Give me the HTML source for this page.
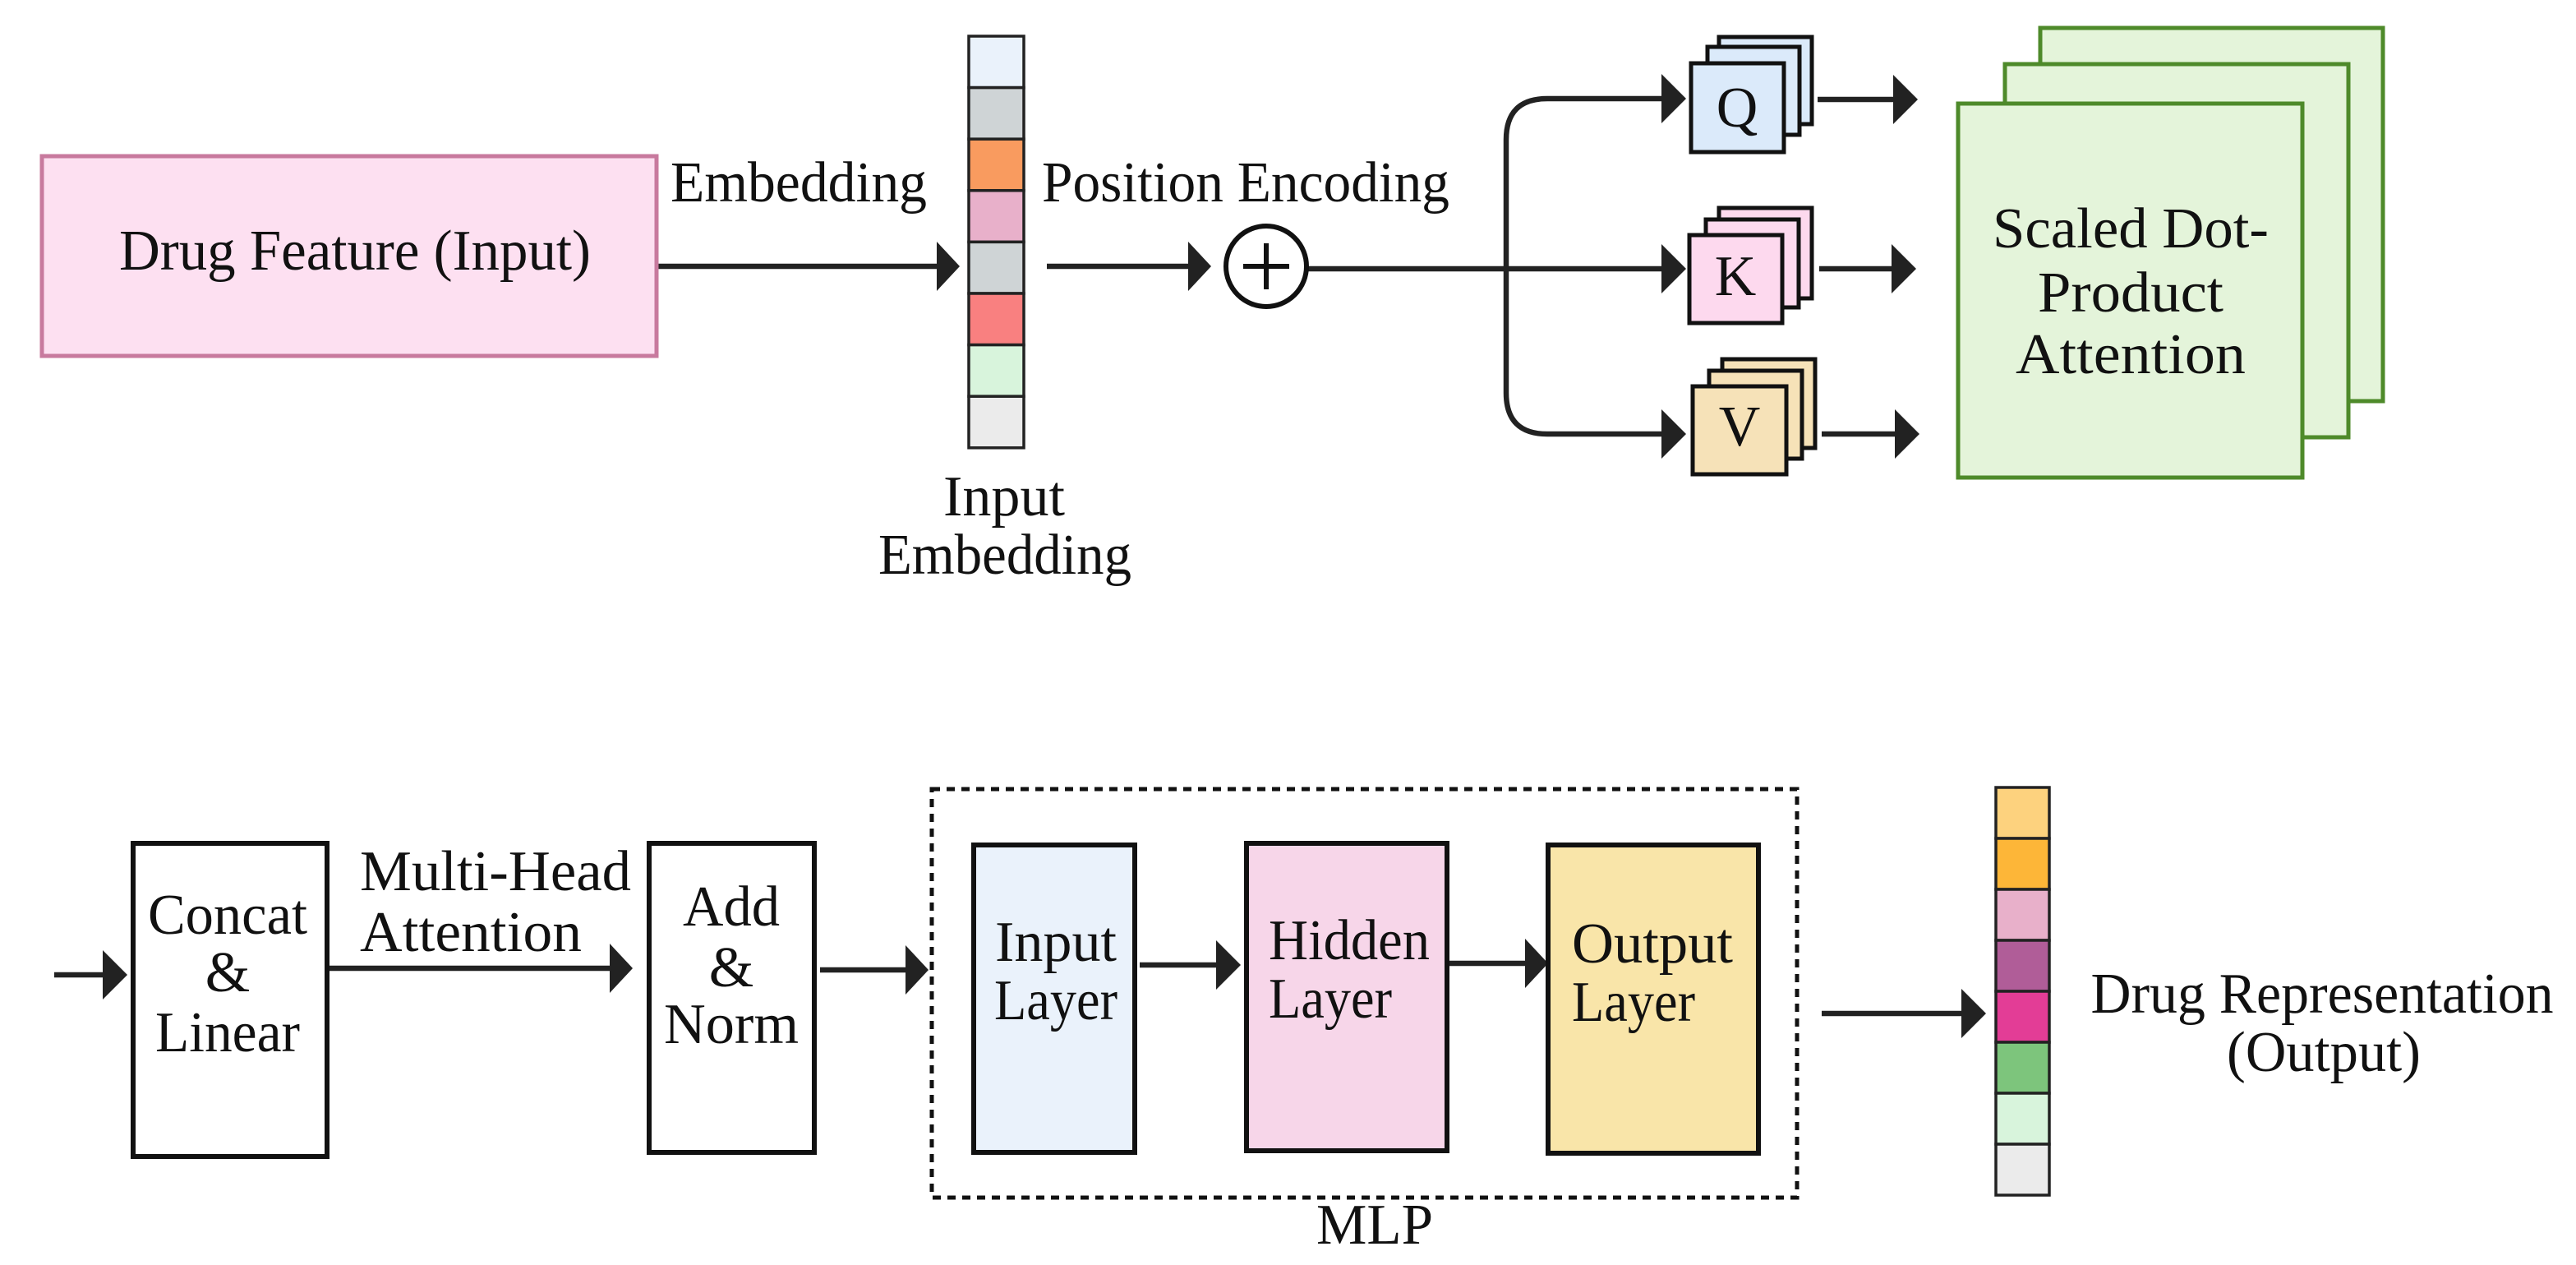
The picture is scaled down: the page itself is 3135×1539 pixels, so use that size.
<!DOCTYPE html>
<html><head><meta charset="utf-8"><style>
html,body{margin:0;padding:0;background:#fff;}
svg{display:block;}
text{font-family:"Liberation Serif","Times New Roman",serif;fill:#111;font-size:70px;}
</style></head><body>
<svg width="3135" height="1539" viewBox="0 0 3135 1539" xmlns="http://www.w3.org/2000/svg">
<g stroke="#222" stroke-width="6.5" fill="none">
<line x1="800" y1="324" x2="1145" y2="324"/>
<line x1="1274" y1="324" x2="1450" y2="324"/>
<line x1="1590" y1="327" x2="2025" y2="327"/>
<path d="M2025 120 H1883 Q1833 120 1833 170 V478 Q1833 528 1883 528 H2025"/>
<line x1="2212" y1="121" x2="2308" y2="121"/>
<line x1="2214" y1="327" x2="2306" y2="327"/>
<line x1="2217" y1="528" x2="2310" y2="528"/>
<line x1="66" y1="1186" x2="130" y2="1186"/>
<line x1="401" y1="1178" x2="745" y2="1178"/>
<line x1="998" y1="1180" x2="1105" y2="1180"/>
<line x1="1387" y1="1174" x2="1485" y2="1174"/>
<line x1="1761" y1="1172" x2="1860" y2="1172"/>
<line x1="2217" y1="1233" x2="2390" y2="1233"/>
</g>
<g fill="#222">
<polygon points="1140,294 1168,324 1140,354"/>
<polygon points="1446,294 1474,324 1446,354"/>
<polygon points="2022,90 2052,120 2022,150"/>
<polygon points="2022,297 2052,327 2022,357"/>
<polygon points="2022,498 2052,528 2022,558"/>
<polygon points="2304,91 2334,121 2304,151"/>
<polygon points="2302,297 2332,327 2302,357"/>
<polygon points="2306,498 2336,528 2306,558"/>
<polygon points="125,1156 155,1186 125,1216"/>
<polygon points="742,1148 770,1178 742,1208"/>
<polygon points="1102,1150 1130,1180 1102,1210"/>
<polygon points="1480,1144 1510,1174 1480,1204"/>
<polygon points="1856,1142 1884,1172 1856,1202"/>
<polygon points="2387,1203 2417,1233 2387,1263"/>
</g>
<rect x="51" y="190" width="748" height="243" fill="#fde0f1" stroke="#c87a9e" stroke-width="5"/>
<text x="432" y="328" text-anchor="middle" textLength="574" lengthAdjust="spacingAndGlyphs">Drug Feature (Input)</text>
<text x="816" y="245" textLength="312" lengthAdjust="spacingAndGlyphs">Embedding</text>
<text x="1268" y="245" textLength="496" lengthAdjust="spacingAndGlyphs">Position Encoding</text>
<g stroke="#222" stroke-width="3.5">
<rect x="1179" y="44" width="67" height="62.6" fill="#eaf2fb"/>
<rect x="1179" y="106.6" width="67" height="62.6" fill="#cfd4d6"/>
<rect x="1179" y="169.2" width="67" height="62.6" fill="#f99b5f"/>
<rect x="1179" y="231.8" width="67" height="62.6" fill="#e8b0ca"/>
<rect x="1179" y="294.4" width="67" height="62.6" fill="#cfd4d6"/>
<rect x="1179" y="357" width="67" height="62.6" fill="#f98080"/>
<rect x="1179" y="419.6" width="67" height="62.6" fill="#d8f4dc"/>
<rect x="1179" y="482.2" width="67" height="62.6" fill="#ebebeb"/>
</g>
<text x="1222" y="627" text-anchor="middle" textLength="148" lengthAdjust="spacingAndGlyphs">Input</text>
<text x="1223" y="698" text-anchor="middle" textLength="308" lengthAdjust="spacingAndGlyphs">Embedding</text>
<circle cx="1541" cy="324" r="49" fill="#fff" stroke="#111" stroke-width="6"/>
<line x1="1541" y1="296" x2="1541" y2="352" stroke="#111" stroke-width="6"/>
<line x1="1513" y1="324" x2="1569" y2="324" stroke="#111" stroke-width="6"/>
<g stroke="#111" stroke-width="5">
<rect x="2092" y="45" width="113" height="106" fill="#dbeafa"/>
<rect x="2078" y="57" width="112" height="107" fill="#dbeafa"/>
<rect x="2058" y="77" width="113" height="108" fill="#dbeafa"/>
<rect x="2092" y="253" width="113" height="110" fill="#fdd9ee"/>
<rect x="2076" y="267" width="113" height="107" fill="#fdd9ee"/>
<rect x="2056" y="286" width="113" height="107" fill="#fdd9ee"/>
<rect x="2096" y="437" width="113" height="108" fill="#f6e2b8"/>
<rect x="2080" y="451" width="113" height="107" fill="#f6e2b8"/>
<rect x="2060" y="470" width="114" height="107" fill="#f6e2b8"/>
</g>
<text x="2114" y="154" text-anchor="middle" font-size="68">Q</text>
<text x="2112" y="359" text-anchor="middle" font-size="68">K</text>
<text x="2117" y="542" text-anchor="middle" font-size="68">V</text>
<g stroke="#4e8a2a" stroke-width="5" fill="#e4f4da">
<rect x="2483" y="34" width="417" height="454"/>
<rect x="2440" y="78" width="418" height="454"/>
<rect x="2383" y="126" width="419" height="455"/>
</g>
<text x="2593" y="301" text-anchor="middle" textLength="336" lengthAdjust="spacingAndGlyphs">Scaled Dot-</text>
<text x="2593" y="379" text-anchor="middle" textLength="226" lengthAdjust="spacingAndGlyphs">Product</text>
<text x="2593" y="454" text-anchor="middle" textLength="280" lengthAdjust="spacingAndGlyphs">Attention</text>
<rect x="162" y="1026" width="236" height="381" fill="#fff" stroke="#111" stroke-width="6"/>
<text x="277" y="1136" text-anchor="middle" textLength="194" lengthAdjust="spacingAndGlyphs">Concat</text>
<text x="277" y="1206" text-anchor="middle">&amp;</text>
<text x="277" y="1279" text-anchor="middle" textLength="176" lengthAdjust="spacingAndGlyphs">Linear</text>
<text x="438" y="1083" textLength="330" lengthAdjust="spacingAndGlyphs">Multi-Head</text>
<text x="438" y="1157" textLength="270" lengthAdjust="spacingAndGlyphs">Attention</text>
<rect x="790" y="1026" width="201" height="376" fill="#fff" stroke="#111" stroke-width="6"/>
<text x="890" y="1126" text-anchor="middle" textLength="118" lengthAdjust="spacingAndGlyphs">Add</text>
<text x="890" y="1200" text-anchor="middle">&amp;</text>
<text x="890" y="1269" text-anchor="middle" textLength="164" lengthAdjust="spacingAndGlyphs">Norm</text>
<rect x="1134" y="960" width="1053" height="497" fill="none" stroke="#111" stroke-width="5" stroke-dasharray="10 8"/>
<rect x="1185" y="1028" width="196" height="374" fill="#eaf2fb" stroke="#111" stroke-width="6"/>
<text x="1285" y="1169" text-anchor="middle" textLength="148" lengthAdjust="spacingAndGlyphs">Input</text>
<text x="1285" y="1240" text-anchor="middle" textLength="150" lengthAdjust="spacingAndGlyphs">Layer</text>
<rect x="1517" y="1026" width="244" height="374" fill="#f7d6e9" stroke="#111" stroke-width="6"/>
<text x="1544" y="1167" textLength="196" lengthAdjust="spacingAndGlyphs">Hidden</text>
<text x="1544" y="1238" textLength="150" lengthAdjust="spacingAndGlyphs">Layer</text>
<rect x="1884" y="1028" width="256" height="375" fill="#f9e5a9" stroke="#111" stroke-width="6"/>
<text x="1913" y="1171" textLength="196" lengthAdjust="spacingAndGlyphs">Output</text>
<text x="1913" y="1242" textLength="150" lengthAdjust="spacingAndGlyphs">Layer</text>
<text x="1673" y="1513" text-anchor="middle" textLength="142" lengthAdjust="spacingAndGlyphs">MLP</text>
<g stroke="#222" stroke-width="3.5">
<rect x="2429" y="958" width="65" height="62" fill="#fdd27e"/>
<rect x="2429" y="1020" width="65" height="62" fill="#fdb638"/>
<rect x="2429" y="1082" width="65" height="62" fill="#e8b0ca"/>
<rect x="2429" y="1144" width="65" height="62" fill="#b05d98"/>
<rect x="2429" y="1206" width="65" height="62" fill="#e33d96"/>
<rect x="2429" y="1268" width="65" height="62" fill="#7dc57c"/>
<rect x="2429" y="1330" width="65" height="62" fill="#d8f4dc"/>
<rect x="2429" y="1392" width="65" height="62" fill="#ebebeb"/>
</g>
<text x="2826" y="1232" text-anchor="middle" textLength="563" lengthAdjust="spacingAndGlyphs">Drug Representation</text>
<text x="2828" y="1303" text-anchor="middle" textLength="236" lengthAdjust="spacingAndGlyphs">(Output)</text>
</svg>
</body></html>
